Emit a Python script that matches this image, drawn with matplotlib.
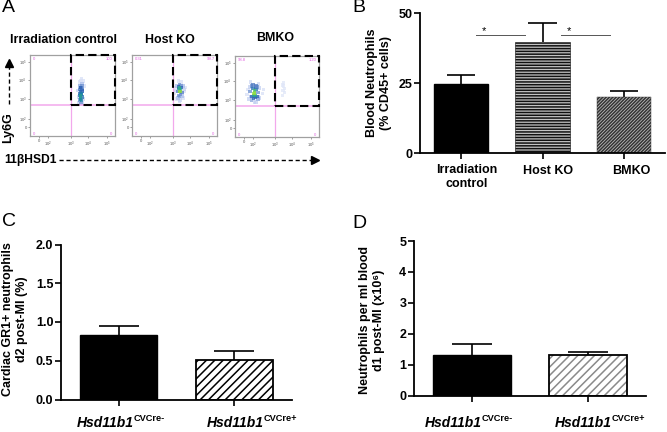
import matplotlib
matplotlib.use("Agg")
import matplotlib.pyplot as plt
from matplotlib.colors import LinearSegmentedColormap
from matplotlib.lines import Line2D
from matplotlib.patches import Rectangle

plt.rcParams["font.family"] = ["Liberation Sans", "DejaVu Sans"]
plt.rcParams["mathtext.fontset"] = "custom"
plt.rcParams["mathtext.rm"] = "Liberation Sans"
plt.rcParams["hatch.linewidth"] = 1.1

W, H = 667, 432

# Panel B
b_labels = ["Irradiation\ncontrol", "Host KO", "BMKO"]
b_means = [24.5, 39.5, 20.0]
b_errs = [3.5, 7.0, 2.2]
b_ticks = [0, 25, 50]
b_sig_x = [[1.18, 1.78], [2.23, 2.83]]
b_sig_y = 42.1

# Panel C
c_means = [0.83, 0.51]
c_errs = [0.12, 0.12]
c_ticks = [0.0, 0.5, 1.0, 1.5, 2.0]

# Panel D
d_means = [1.30, 1.32]
d_errs = [0.38, 0.08]
d_ticks = [0, 1, 2, 3, 4, 5]

gene = "Hsd11b1"
cre_labels = ["CVCre-", "CVCre+"]

# Panel A, flow cytometry events (decades) and local density
ctrl_x = [3.45, 3.5, 3.62, 3.7, 3.42, 3.58, 3.66, 3.48, 3.55, 3.72, 3.4, 3.6, 3.5, 3.64, 3.46, 3.56,
          3.52, 3.6, 3.5, 3.58, 3.54, 3.62, 3.48, 3.56, 3.5, 3.6, 3.54, 3.58, 3.52, 3.56, 3.52, 3.6]
ctrl_y = [2.78, 2.85, 2.8, 3.0, 3.1, 4.1, 3.95, 3.9, 4.0, 3.7, 3.45, 3.82, 3.7, 3.4, 2.95, 2.75,
          3.05, 3.1, 3.2, 3.3, 3.4, 3.5, 3.5, 3.6, 3.3, 3.7, 3.0, 2.92, 3.15, 3.25, 3.6, 3.42]
ctrl_d = [0.1, 0.1, 0.1, 0.1, 0.1, 0.05, 0.05, 0.05, 0.05, 0.05, 0.1, 0.2, 0.25, 0.2, 0.3, 0.3,
          0.6, 0.5, 0.5, 0.6, 0.45, 0.35, 0.35, 0.35, 0.45, 0.3, 0.65, 0.6, 0.7, 0.55, 0.4, 0.4]

host_x = [3.1, 3.15, 3.62, 3.66, 3.3, 3.45, 3.2, 3.55, 3.38, 3.4, 3.15, 3.6, 3.22, 3.55, 3.28, 3.5,
          3.25, 3.5, 3.3, 3.48, 3.35, 3.45, 3.3, 3.42, 3.38, 3.34, 3.42, 3.38, 3.36, 3.4]
host_y = [3.3, 3.6, 3.4, 3.6, 3.95, 3.9, 3.0, 3.05, 2.85, 2.95, 3.45, 3.5, 3.7, 3.7, 3.05, 3.15,
          3.4, 3.35, 3.65, 3.6, 3.78, 3.72, 3.2, 3.25, 3.12, 3.55, 3.5, 3.58, 3.4, 3.4]
host_d = [0.05, 0.05, 0.05, 0.05, 0.05, 0.05, 0.05, 0.05, 0.08, 0.1, 0.12, 0.12, 0.2, 0.2, 0.2, 0.2,
          0.35, 0.35, 0.4, 0.4, 0.3, 0.3, 0.3, 0.3, 0.25, 0.65, 0.7, 0.75, 0.9, 1.0]

bm_x = [1.45, 1.5, 2.3, 2.35, 1.65, 2.1, 1.85, 1.95, 1.55, 2.15, 1.6, 2.15, 1.65, 2.1, 1.7, 2.05,
        1.62, 2.05, 1.7, 2.0, 1.78, 1.95, 1.72, 2.0, 1.8, 1.92, 1.78, 1.95, 1.82, 1.9, 1.85, 1.88, 1.84,
        3.38, 3.45, 3.5, 3.42, 3.5, 3.4, 3.46]
bm_y = [3.3, 3.55, 3.35, 3.55, 3.95, 3.85, 2.9, 2.85, 3.05, 3.1, 3.7, 3.65, 3.2, 3.15, 3.0, 3.05,
        3.45, 3.4, 3.75, 3.7, 3.8, 3.75, 3.2, 3.2, 3.1, 3.12, 3.6, 3.55, 3.25, 3.25, 3.5, 3.38, 3.35,
        3.8, 3.75, 3.6, 3.5, 3.4, 3.25, 3.9]
bm_d = [0.05, 0.05, 0.05, 0.05, 0.08, 0.08, 0.12, 0.12, 0.12, 0.12, 0.12, 0.12, 0.2, 0.2, 0.25, 0.25,
        0.3, 0.3, 0.3, 0.3, 0.35, 0.35, 0.4, 0.4, 0.4, 0.4, 0.5, 0.5, 0.7, 0.7, 0.85, 0.95, 1.0,
        0.02, 0.02, 0.02, 0.02, 0.02, 0.02, 0.02]

flow_titles = ["Irradiation control", "Host KO", "BMKO"]
flow_gates = [["0", "100", "0", "0"], ["0.31", "99.7", "0", "0"], ["98.8", "1.20", "0", "0"]]
flow_xticks = [1.3, 1.76, 3, 3.92, 4.95]
flow_yticks = [1.5, 1.93, 3, 4, 5]
flow_xlabels = ["0", "10$^{2}$", "10$^{3}$", "10$^{4}$", "10$^{5}$"]
flow_ylabels = ["0", "10$^{2}$", "10$^{3}$", "10$^{4}$", "10$^{5}$"]

flow_cmap = LinearSegmentedColormap.from_list(
    "flow", ["#e6ebfa", "#a9bdea", "#2b5fb3", "#1b7fa8", "#36c27a", "#8fdc3c"])

fig = plt.figure(figsize=(W / 100, H / 100), dpi=100)


def px_axes(left, top, right, bottom):
    return fig.add_axes([left / W, 1 - bottom / H, (right - left) / W, (bottom - top) / H])


def ftext(x, y, s, **kw):
    kw.setdefault("ha", "center")
    kw.setdefault("va", "center")
    fig.text(x / W, 1 - y / H, s, **kw)


def fline(xs, ys, **kw):
    fig.add_artist(Line2D([x / W for x in xs], [1 - y / H for y in ys],
                          transform=fig.transFigure, **kw))


def flow_panel(box, xs, ys, dens, gates):
    ax = px_axes(*box)
    order = sorted(range(len(xs)), key=lambda i: dens[i])
    ax.scatter([xs[i] for i in order], [ys[i] for i in order], c=[dens[i] for i in order],
               cmap=flow_cmap, vmin=0, vmax=1, s=6, marker="s", linewidths=0, alpha=0.75)
    ax.set_xlim(0.8, 5.39)
    ax.set_ylim(1.02, 5.35)
    ax.axvline(3.0, color="#f2a8ec", lw=0.9)
    ax.axhline(2.68, color="#f2a8ec", lw=1.1)
    ax.add_patch(Rectangle((3.0, 2.68), 5.39 - 3.0, 5.35 - 2.68, fill=False, edgecolor="black",
                           linestyle=(0, (4, 2)), lw=1.5, clip_on=False, zorder=5))
    ax.set_xticks(flow_xticks, flow_xlabels)
    ax.set_yticks(flow_yticks, flow_ylabels)
    ax.tick_params(length=1.2, width=0.4, labelsize=3, pad=1.2, colors="#555555")
    for s in ax.spines.values():
        s.set_color("#a0a0a0")
        s.set_linewidth(0.9)
    pos = [(0.03, 0.95, "left"), (0.97, 0.95, "right"), (0.03, 0.03, "left"), (0.97, 0.03, "right")]
    for (px, py, ha), g in zip(pos, gates):
        ax.text(px, py, g, transform=ax.transAxes, fontsize=3, color="#e060e0", ha=ha, va="center")


def bar_panel(ax, n, means, errs, ticks, fmt=None):
    # upper error bars only, the cap is a third of the spacing
    for i in range(n):
        x = i + 1
        top = means[i] + errs[i]
        ax.vlines(x, means[i], top, color="black", lw=1.2, zorder=1)
        ax.hlines(top, x - 0.172, x + 0.172, color="black", lw=1.2, zorder=1)
    ax.set_xlim(0.5, n + 0.5)
    ax.set_xticks(range(1, n + 1), [""] * n)
    ax.set_yticks(ticks)
    if fmt:
        ax.set_yticklabels([fmt % t for t in ticks])
    ax.set_ylim(ticks[0], ticks[-1])
    ax.tick_params(length=4, width=1.2, labelsize=9, pad=1.5)
    for t in ax.get_yticklabels():
        t.set_fontweight("bold")
    ax.spines["top"].set_visible(False)
    ax.spines["right"].set_visible(False)
    ax.spines["left"].set_linewidth(1.3)
    ax.spines["bottom"].set_linewidth(1.3)
    ax.patch.set_alpha(0)


def genotype(x, label):
    ftext(x, 423, gene, fontsize=10, fontweight="bold", fontstyle="italic", ha="left")
    ftext(x + 57, 418.5, label, fontsize=6.7, fontweight="bold", ha="left")


# Panel A
flow_panel((30, 55, 115, 136), ctrl_x, ctrl_y, ctrl_d, flow_gates[0])
flow_panel((132, 55, 217, 136), host_x, host_y, host_d, flow_gates[1])
flow_panel((235, 56, 319, 137), bm_x, bm_y, bm_d, flow_gates[2])
ftext(63, 40, flow_titles[0], fontsize=8.9, fontweight="bold")
ftext(170, 40, flow_titles[1], fontsize=8.9, fontweight="bold")
ftext(275, 38, flow_titles[2], fontsize=8.9, fontweight="bold")
ftext(8, 128, "Ly6G", fontsize=9, fontweight="bold", rotation=90)
ftext(30, 160, "11βHSD1", fontsize=8.7, fontweight="bold")
fline([9, 9], [104, 66], color="black", lw=1, linestyle=(0, (3, 2)))
fline([9], [63], color="black", marker="^", markersize=5.5, linestyle="none")
fline([59, 313], [160, 160], color="black", lw=1, linestyle=(0, (3, 2)))
fline([315], [160], color="black", marker=">", markersize=5.5, linestyle="none")

# Panel B
ax_b = px_axes(420, 13, 665, 153)
ax_b.bar(1, b_means[0], width=0.665, color="black", edgecolor="black", zorder=2)
ax_b.bar(2, b_means[1], width=0.665, color="#c4c4c4", edgecolor="#111111", hatch="------", lw=0.4, zorder=2)
ax_b.bar(3, b_means[2], width=0.665, color="#bbbbbb", edgecolor="#333333", hatch="/" * 10, lw=0.3, zorder=2)
bar_panel(ax_b, 3, b_means, b_errs, b_ticks)
for xs in b_sig_x:
    ax_b.plot(xs, [b_sig_y, b_sig_y], color="#555555", lw=0.7)
    ax_b.text(xs[0] + 0.1, b_sig_y - 0.3, "*", fontsize=8, ha="center", va="bottom")
ftext(467, 177, b_labels[0], fontsize=9, fontweight="bold", linespacing=1.2)
ftext(548, 171, b_labels[1], fontsize=9, fontweight="bold")
ftext(631, 171, b_labels[2], fontsize=9, fontweight="bold")
ftext(379, 83, "Blood Neutrophils\n(% CD45+ cells)", fontsize=9, fontweight="bold",
      rotation=90, linespacing=1.3)

# Panel C
ax_c = px_axes(61, 244.5, 292, 399.5)
ax_c.bar(1, c_means[0], width=0.664, color="black", edgecolor="black", zorder=2)
ax_c.bar(2, c_means[1], width=0.664, color="white", edgecolor="black", hatch="////", lw=1.3, zorder=2)
bar_panel(ax_c, 2, c_means, c_errs, c_ticks, "%.1f")
genotype(77, cre_labels[0])
genotype(207, cre_labels[1])
ftext(15, 319, "Cardiac GR1+ neutrophils\nd2 post-MI (%)", fontsize=9, fontweight="bold",
      rotation=90, linespacing=1.3)

# Panel D
ax_d = px_axes(414, 241, 646, 395.5)
ax_d.bar(1, d_means[0], width=0.664, color="black", edgecolor="black", zorder=2)
ax_d.bar(2, d_means[1], width=0.664, color="white", edgecolor="#8a8a8a", hatch="////", lw=0, zorder=2)
ax_d.bar(2, d_means[1], width=0.664, fill=False, edgecolor="black", lw=1.3, zorder=3)
bar_panel(ax_d, 2, d_means, d_errs, d_ticks)
genotype(425, cre_labels[0])
genotype(555, cre_labels[1])
ftext(372, 320, "Neutrophils per ml blood\nd1 post-MI (x10⁶)", fontsize=9, fontweight="bold",
      rotation=90, linespacing=1.3)

# Panel letters
ftext(2, 8, "A", fontsize=14, ha="left")
ftext(352, 8, "B", fontsize=14, ha="left")
ftext(2, 222, "C", fontsize=14, ha="left")
ftext(352, 224, "D", fontsize=14, ha="left")

fig.savefig("out.png", dpi=100)
